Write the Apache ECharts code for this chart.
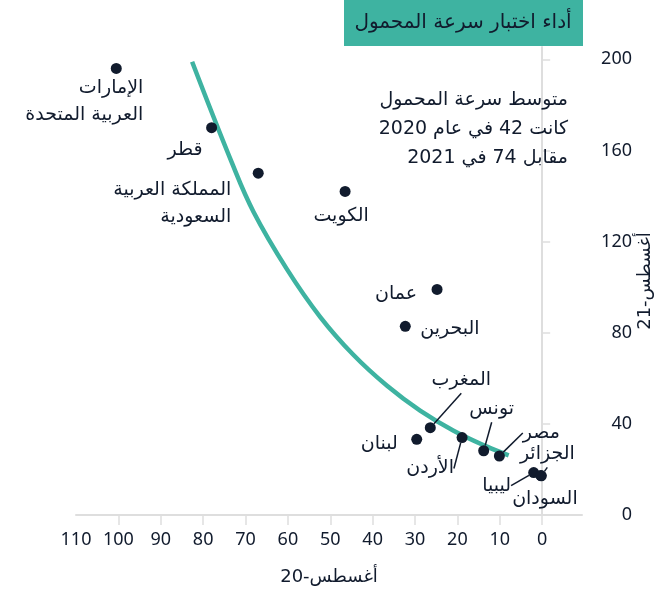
<!DOCTYPE html>
<html>
<head>
<meta charset="utf-8">
<script src="https://cdn.jsdelivr.net/npm/echarts@6/dist/echarts.min.js"></script>
<style>
  html, body { margin: 0; padding: 0; background: #fff; }
  #main { width: 663px; height: 592px; }
</style>
</head>
<body>
<div id="main"></div>
<script>
// data
var countries = ['الإمارات\nالعربية المتحدة', 'قطر', 'المملكة العربية\nالسعودية', 'الكويت', 'عمان', 'البحرين',
  'المغرب', 'لبنان', 'الأردن', 'تونس', 'مصر', 'الجزائر', 'ليبيا', 'السودان'];
var aug20 = [100.5, 78, 67, 46.5, 24.8, 32.3, 26.4, 29.6, 18.9, 13.8, 10.1, 0.2, 2.0, 0.3];
var aug21 = [196, 170, 150, 142, 99, 82.8, 38.3, 33.2, 34, 28.2, 25.9, 17.2, 18.6, 17.3];

// trend line, points
var trendX = [82.6, 73.2, 68.1, 60.2, 52.4, 44.5, 36.6, 28.8, 20.9, 13.0, 7.9];
var trendY = [198.9, 154.5, 133.0, 107.8, 87.0, 70.2, 56.7, 45.8, 37.0, 30.0, 26.2];

var xTickLabels = [0, 10, 20, 30, 40, 50, 60, 70, 80, 90, 100, 110];
var yTickLabels = [0, 40, 80, 120, 160, 200];

var titleText = 'أداء اختبار سرعة المحمول';
var noteText = 'متوسط سرعة المحمول\nكانت 42 في عام 2020\nمقابل 74 في 2021';

// label placement: [align, dx, dy, leader line]
var labelPlace = [
  ['right', 27, 33.5, false],
  ['right', -9, 22, false],
  ['right', -27, 30.5, false],
  ['center', -4, 25, false],
  ['right', -20, 5, false],
  ['left', 15, 3, false],
  ['center', 31, -48, true],
  ['right', -19, 5, false],
  ['center', -32, 31, true],
  ['center', 8, -42, true],
  ['center', 42, -23, true],
  ['center', 6, -22, true],
  ['center', -37, 13, true],
  ['center', 4, 23, false]
];

var teal = '#3eb3a1';
var ink = '#111b2d';
var arFont = '"DejaVu Sans", sans-serif';
var numFont = '"Noto Sans", sans-serif';

var points = countries.map(function (name, i) {
  var p = labelPlace[i];
  return {
    name: name,
    value: [aug20[i], aug21[i]],
    label: { align: p[0], offset: [p[1], p[2]] },
    labelLine: { show: p[3] }
  };
});

var trend = trendX.map(function (x, i) { return [x, trendY[i]]; });

var chart = echarts.init(document.getElementById('main'));
var option = {
  animation: false,
  grid: { left: 76, right: 81, top: 47, bottom: 77, outerBoundsMode: 'none', containLabel: false },
  xAxis: {
    type: 'value',
    inverse: true,
    min: -9.4,
    max: 110,
    name: 'أغسطس-20',
    nameLocation: 'middle',
    nameGap: 53,
    nameTextStyle: { color: ink, fontSize: 18, fontFamily: arFont },
    axisLine: { lineStyle: { color: '#dedede', width: 2 } },
    axisTick: { show: true, length: 10, lineStyle: { color: '#dedede', width: 1.5 },
      customValues: xTickLabels.slice(0, 11) },
    axisLabel: { color: ink, fontSize: 18, fontFamily: numFont, margin: 16,
      customValues: xTickLabels },
    splitLine: { show: false }
  },
  yAxis: {
    type: 'value',
    position: 'right',
    min: 0,
    max: 205.4,
    name: 'أغسطس-21',
    nameLocation: 'middle',
    nameRotate: 90,
    nameGap: 54,
    nameMoveOverlap: false,
    nameTextStyle: { color: ink, fontSize: 18, fontFamily: arFont },
    axisLine: { show: true, lineStyle: { color: '#dedede', width: 2 } },
    axisTick: { show: true, length: 8, lineStyle: { color: '#dedede', width: 1.5 },
      customValues: yTickLabels.slice(1) },
    axisLabel: { color: ink, fontSize: 18, fontFamily: numFont, margin: 50, align: 'right',
      customValues: yTickLabels },
    splitLine: { show: false }
  },
  graphic: [
    {
      type: 'rect', left: 344, top: 0, z: 10,
      shape: { width: 239, height: 46 },
      style: { fill: teal }
    },
    {
      type: 'text', z: 11, x: 463, y: 23,
      style: { text: titleText, fill: ink, fontSize: 20, fontFamily: arFont,
        align: 'center', verticalAlign: 'middle' }
    },
    {
      type: 'text', z: 11, x: 568, y: 86,
      style: { text: noteText, fill: ink, fontSize: 19, lineHeight: 29, fontFamily: arFont,
        align: 'right', verticalAlign: 'top' }
    }
  ],
  series: [
    {
      type: 'line',
      data: trend,
      smooth: 0.4,
      showSymbol: false,
      lineStyle: { color: teal, width: 4.5 },
      z: 2
    },
    {
      type: 'scatter',
      data: points,
      symbolSize: 11,
      itemStyle: { color: ink, opacity: 1 },
      label: {
        show: true,
        position: 'inside',
        formatter: '{b}',
        color: ink,
        fontSize: 19,
        lineHeight: 27,
        fontFamily: arFont,
        verticalAlign: 'middle'
      },
      labelLine: { show: false, lineStyle: { color: ink, width: 1.5 } },
      z: 3
    }
  ]
};
chart.setOption(option);
</script>
</body>
</html>
